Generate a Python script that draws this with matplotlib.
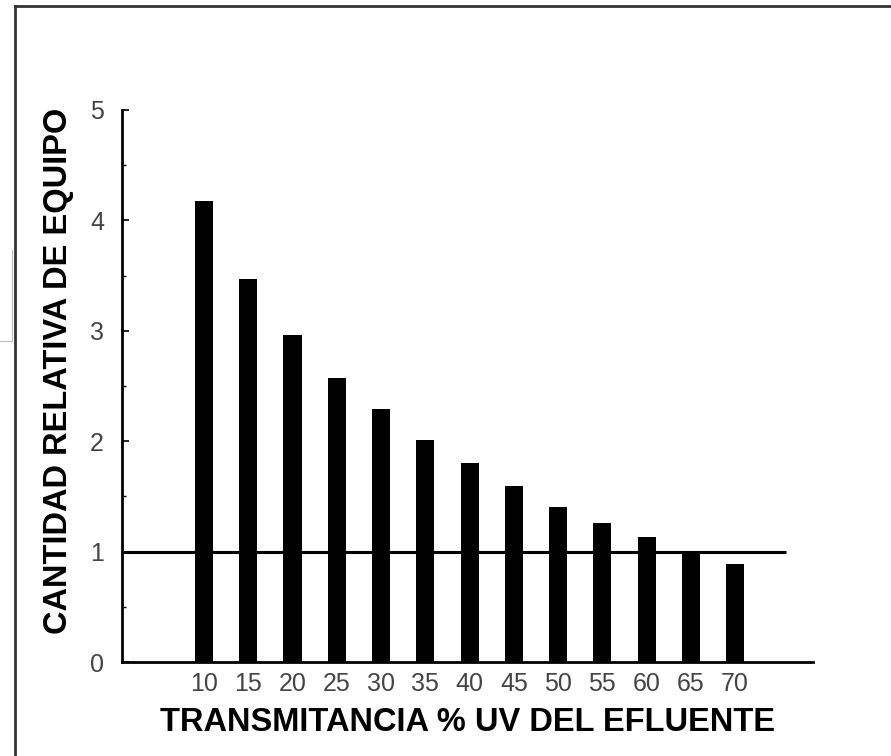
import matplotlib
matplotlib.use("Agg")
import matplotlib.pyplot as plt
from matplotlib.lines import Line2D
from matplotlib.ticker import MultipleLocator

plt.rcParams['font.family'] = ['Liberation Sans', 'DejaVu Sans']

transmitancia = [10, 15, 20, 25, 30, 35, 40, 45, 50, 55, 60, 65, 70]
cantidad = [4.18, 3.47, 2.96, 2.57, 2.29, 2.01, 1.80, 1.59, 1.40, 1.26, 1.13, 1.00, 0.89]
reference_level = 1.0
y_ticks = [0, 1, 2, 3, 4, 5]
x_label = "TRANSMITANCIA % UV DEL EFLUENTE"
y_label = "CANTIDAD RELATIVA DE EQUIPO"

fig = plt.figure(figsize=(8.91, 7.56), dpi=100)
ax = fig.add_axes([0.1369, 0.1243, 0.9125 - 0.1369, 0.8545 - 0.1243])

ax.bar(transmitancia, cantidad, width=2.05, color='black', zorder=3)
ax.hlines(reference_level, 0.73, 75.8, color='black', linewidth=2.2, zorder=2)

ax.set_xlim(0.73, 78.8)
ax.set_ylim(0, 5)
ax.set_xticks(transmitancia)
ax.set_xticklabels([str(v) for v in transmitancia])
ax.set_yticks(y_ticks)
ax.yaxis.set_minor_locator(MultipleLocator(0.5))

for s in ['top', 'right']:
    ax.spines[s].set_visible(False)
for s in ['left', 'bottom']:
    ax.spines[s].set_linewidth(2.0)

ax.tick_params(axis='x', length=0, pad=7, labelsize=18, labelcolor='#444444')
ax.tick_params(axis='y', which='major', direction='in', length=5, width=1.2,
               pad=13, labelsize=18, labelcolor='#444444')
ax.tick_params(axis='y', which='minor', direction='in', length=3, width=1.0)

ax.set_xlabel(x_label, fontsize=23.5, fontweight='bold')
ax.set_ylabel(y_label, fontsize=23.5, fontweight='bold')
ax.xaxis.set_label_coords((468 - 122) / (813 - 122), -(707 - 662) / 552)
ax.yaxis.set_label_coords(-(122 - 74) / 691, (662 - 371) / 552)

# outer frame (left and top edges)
W, H = 891, 756
fig.add_artist(Line2D([15 / W, 15 / W], [0, 1 - 6 / H], color='#333333', linewidth=2, transform=fig.transFigure))
fig.add_artist(Line2D([15 / W, 1], [1 - 6 / H, 1 - 6 / H], color='#333333', linewidth=2, transform=fig.transFigure))
# faint bracket at far left
fig.add_artist(Line2D([12 / W, 12 / W, 0], [1 - 250 / H, 1 - 341 / H, 1 - 341 / H], color='#bbbbbb', linewidth=0.8, transform=fig.transFigure))

fig.savefig("out.png", dpi=100)
